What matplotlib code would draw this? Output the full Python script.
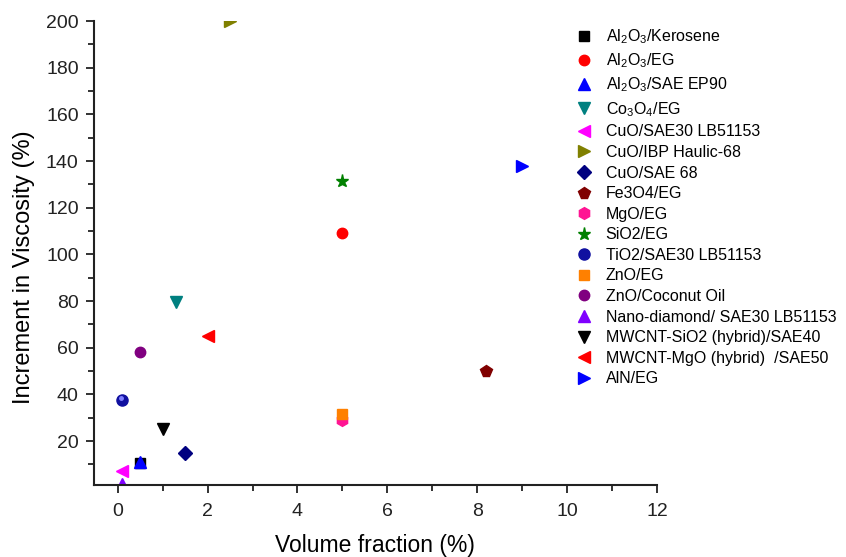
import numpy as np
from matplotlib import pyplot as plt

plt.rcParams['font.family'] = ['Liberation Sans', 'DejaVu Sans']
plt.rcParams['mathtext.fontset'] = 'custom'
plt.rcParams['mathtext.rm'] = 'Liberation Sans'

# nanofluid / base fluid combos
labels = [
    r"Al$_2$O$_3$/Kerosene",
    r"Al$_2$O$_3$/EG",
    r"Al$_2$O$_3$/SAE EP90",
    r"Co$_3$O$_4$/EG",
    "CuO/SAE30 LB51153",
    "CuO/IBP Haulic-68",
    "CuO/SAE 68",
    "Fe3O4/EG",
    "MgO/EG",
    "SiO2/EG",
    "TiO2/SAE30 LB51153",
    "ZnO/EG",
    "ZnO/Coconut Oil",
    "Nano-diamond/ SAE30 LB51153",
    "MWCNT-SiO2 (hybrid)/SAE40",
    "MWCNT-MgO (hybrid)  /SAE50",
    "AlN/EG",
]
vol_frac = [0.5, 5.0, 0.5, 1.3, 0.1, 2.5, 1.5, 8.2, 5.0, 5.0, 0.1, 5.0, 0.5, 0.1, 1.0, 2.0, 9.0]
visc_inc = [10.5, 109, 11, 79.5, 7, 200, 15, 50, 29, 131.5, 37.5, 31.5, 58, 1.5, 25, 65, 138]

markers = ['s', 'o', '^', 'v', '<', '>', 'D', 'p', 'h', '*', 'o', 's', 'o', '^', 'v', '<', '>']
colors = ['black', 'red', 'blue', '#008080', 'magenta', '#808000', '#000080', '#800000',
          '#ff1493', 'green', '#1010a0', '#ff8000', '#800080', '#8000ff', 'black', 'red', 'blue']
sizes = [7, 7.5, 8, 8, 8, 8, 7, 8.5, 8.5, 9.5, 8, 7, 7.5, 8, 8, 8, 8]

fig = plt.figure(figsize=(8.46, 5.57), dpi=100)
ax = fig.add_axes([0.111, 0.129, 0.6655, 0.833])

for i in range(len(labels)):
    ax.plot(vol_frac[i], visc_inc[i], linestyle='none', marker=markers[i],
            color=colors[i], markersize=sizes[i], label=labels[i])

# little highlight on the TiO2 "sphere"
ax.plot(vol_frac[10] - 0.03, visc_inc[10] + 0.8, linestyle='none', marker='o',
        color='#8080ff', markersize=2.5)

ax.set_xlim(-0.53, 12)
ax.set_ylim(1.1, 200)
ax.set_xticks(np.arange(0, 13, 2))
ax.set_xticks(np.arange(1, 13, 2), minor=True)
ax.set_yticks(np.arange(20, 201, 20))
ax.set_yticks(np.arange(10, 201, 20), minor=True)
ax.tick_params(which='major', direction='out', length=6, width=1.3, labelsize=14,
               colors='#222222')
ax.tick_params(axis='x', which='major', pad=7)
ax.tick_params(axis='y', which='major', pad=5)
ax.tick_params(which='minor', direction='out', length=4, width=1.3, colors='#222222')
for s in ['top', 'right']:
    ax.spines[s].set_visible(False)
for s in ['left', 'bottom']:
    ax.spines[s].set_linewidth(1.5)
    ax.spines[s].set_color('#222222')

ax.set_xlabel("Volume fraction (%)", fontsize=16.5, labelpad=10)
ax.set_ylabel("Increment in Viscosity (%)", fontsize=17)
ax.yaxis.set_label_coords(-0.105, 0.47)

fig.legend(loc='upper left', bbox_to_anchor=(0.664, 0.977), frameon=False,
           fontsize=11.5, handlelength=1.0, handletextpad=0.85, labelspacing=0.35,
           numpoints=1)

plt.savefig("out.png", dpi=100)
